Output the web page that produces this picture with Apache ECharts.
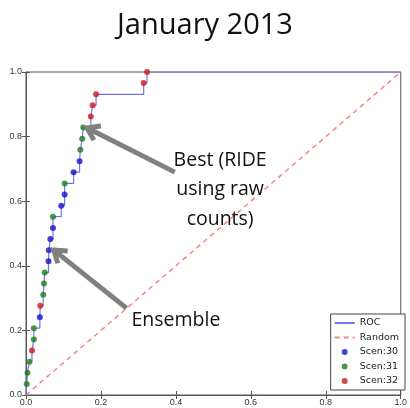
<!DOCTYPE html>
<html><head><meta charset="utf-8">
<script src="https://cdn.jsdelivr.net/npm/echarts@6/dist/echarts.min.js"></script>
<style>html,body{margin:0;padding:0;background:#fff}#c{width:410px;height:408px}</style>
</head><body><div id="c"></div>
<script>
const titleText = 'January 2013';
const fpr = [0.002,0.004,0.009,0.016,0.021,0.021,0.037,0.038,0.046,0.048,0.050,0.060,0.061,0.065,0.072,0.072,0.094,0.103,0.103,0.127,0.143,0.145,0.150,0.153,0.173,0.178,0.187,0.314,0.323];
const tpr = [0.034,0.069,0.103,0.138,0.172,0.207,0.241,0.276,0.310,0.345,0.379,0.414,0.448,0.483,0.517,0.552,0.586,0.621,0.655,0.690,0.724,0.759,0.793,0.828,0.862,0.897,0.931,0.966,1.0];
const scen = [31,31,31,32,31,31,30,32,31,31,31,30,30,30,30,31,30,30,31,30,30,31,31,31,32,32,32,32,32];
const scenNames = [30,31,32];
const scenColors = ['#1414c8','#1e7d1e','#cc1a1a'];
const annotations = [
  {text:'Best (RIDE\nusing raw\ncounts)', tip:[0.163,0.827], tail:[0.397,0.69], label:[0.518,0.636]},
  {text:'Ensemble', tip:[0.074,0.449], tail:[0.268,0.269], label:[0.4,0.232]}
];

const rocData = [[0,0]].concat(fpr.map((x,i)=>[x,tpr[i]])).concat([[1,1]]);
const scatterSeries = scenNames.map((s,k)=>({
  name:'Scen:'+s, type:'scatter', symbol:'circle', symbolSize:6,
  itemStyle:{color:scenColors[k]}, z:5,
  data: fpr.map((x,i)=>scen[i]===s?[x,tpr[i]]:null).filter(d=>d)
}));

const chart = echarts.init(document.getElementById('c'));
const axisCommon = {type:'value', min:0, max:1, interval:0.2,
  axisLine:{show:true,lineStyle:{color:'#555',width:1}},
  axisTick:{show:true,inside:true,length:4,lineStyle:{color:'#555'}},
  splitLine:{show:false}};
chart.setOption({
  animation:false,
  backgroundColor:'#fff',
  title:{text:titleText,left:'center',top:6,textStyle:{fontFamily:'Open Sans',fontWeight:'normal',fontSize:29,color:'#111'}},
  grid:{left:26,right:3,top:72,bottom:13,show:true,borderColor:'#555',borderWidth:1},
  xAxis:[
    Object.assign({},axisCommon,{position:'bottom',axisLabel:{fontSize:9,color:'#333',margin:3,formatter:v=>v.toFixed(1)}}),
    Object.assign({},axisCommon,{position:'top',axisLabel:{show:false}})
  ],
  yAxis:[
    Object.assign({},axisCommon,{position:'left',axisLabel:{fontSize:9,color:'#333',margin:4,formatter:v=>v.toFixed(1)}}),
    Object.assign({},axisCommon,{position:'right',axisLabel:{show:false}})
  ],
  legend:{orient:'vertical',right:5,bottom:18,itemWidth:20,itemHeight:6,itemGap:4.5,
    backgroundColor:'#fff',borderColor:'#444',borderWidth:1,padding:[4,6,4,3],
    textStyle:{fontSize:9.5,color:'#222',fontFamily:'DejaVu Sans'},
    data:[{name:'ROC',itemStyle:{opacity:0}},{name:'Random',itemStyle:{opacity:0}},'Scen:30','Scen:31','Scen:32']},
  series:[
    {name:'ROC',type:'line',step:'end',symbol:'none',data:rocData,lineStyle:{color:'#7373ee',width:1.2},itemStyle:{color:'#7373ee'},z:3},
    {name:'Random',type:'line',symbol:'none',data:[[0,0],[1,1]],lineStyle:{color:'#f08a8a',width:1.5,type:[5,4]},itemStyle:{color:'#f08a8a'},z:2}
  ].concat(scatterSeries)
});

const gfx = [];
annotations.forEach(a=>{
  const p1 = chart.convertToPixel({gridIndex:0}, a.tail);
  const p2 = chart.convertToPixel({gridIndex:0}, a.tip);
  const ang = Math.atan2(p2[1]-p1[1], p2[0]-p1[0]);
  const L = 14, w = 0.6;
  const h1 = [p2[0]-L*Math.cos(ang-w), p2[1]-L*Math.sin(ang-w)];
  const h2 = [p2[0]-L*Math.cos(ang+w), p2[1]-L*Math.sin(ang+w)];
  gfx.push({type:'line',shape:{x1:p1[0],y1:p1[1],x2:p2[0]-3*Math.cos(ang),y2:p2[1]-3*Math.sin(ang)},style:{stroke:'#808080',lineWidth:5},z:10});
  gfx.push({type:'polyline',shape:{points:[h1,p2,h2]},style:{stroke:'#808080',lineWidth:5,fill:null,lineJoin:'miter'},z:10});
  const pl = chart.convertToPixel({gridIndex:0}, a.label);
  gfx.push({type:'text',x:pl[0],y:pl[1],style:{text:a.text,fontSize:19.5,fontFamily:'Open Sans',fill:'#111',align:'center',verticalAlign:'middle',lineHeight:29.5},z:11});
});
chart.setOption({graphic:gfx});
</script></body></html>
